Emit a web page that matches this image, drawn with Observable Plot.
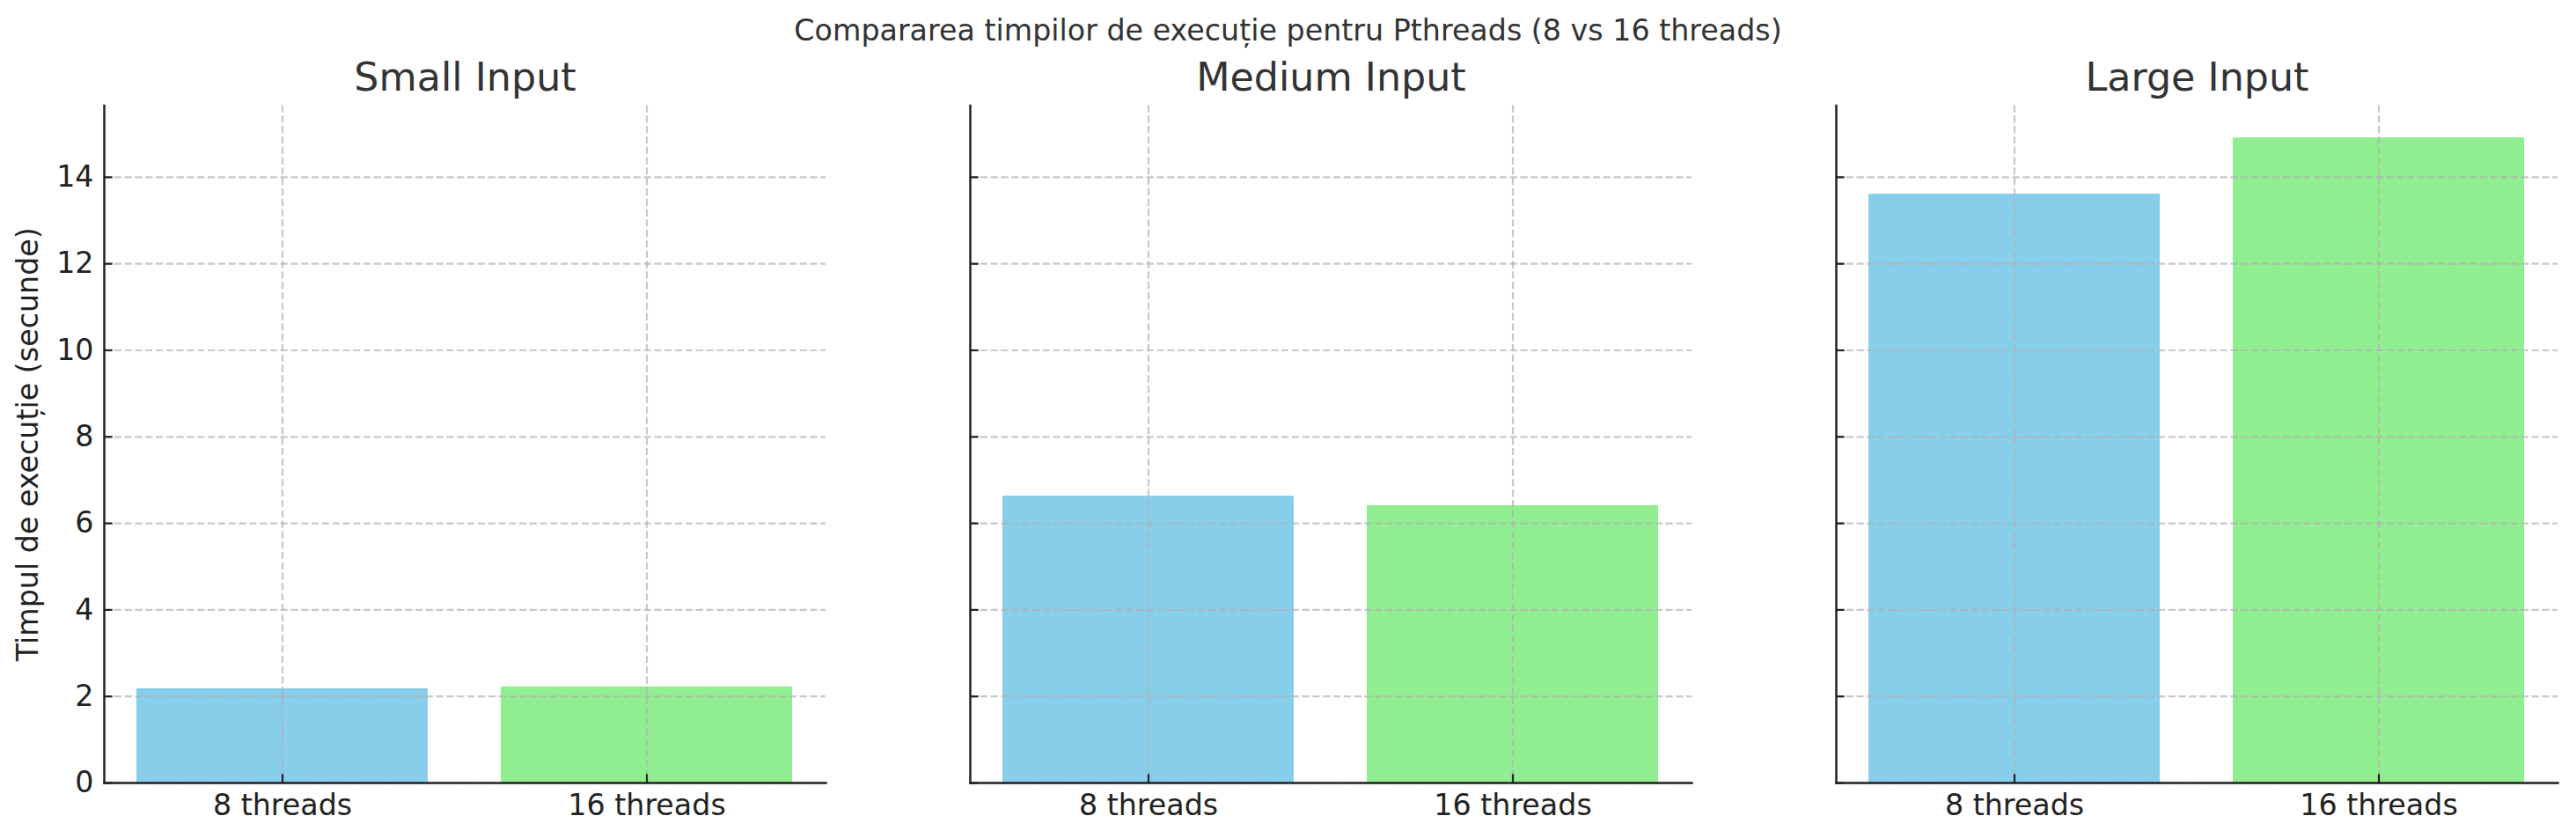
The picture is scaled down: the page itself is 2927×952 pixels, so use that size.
<!DOCTYPE html>
<html><head><meta charset="utf-8">
<script src="https://cdn.jsdelivr.net/npm/d3@7"></script>
<script src="https://cdn.jsdelivr.net/npm/@observablehq/plot@0.6"></script>
<style>
html,body{margin:0;padding:0;background:#fff;}
#title{height:60px;line-height:69px;text-align:center;font-family:"DejaVu Sans";font-size:33.3px;color:#333;white-space:nowrap;overflow:visible;}
#chart svg{display:block;}
</style></head><body>
<div id="title"></div>
<div id="chart"></div>
<script>
const suptitle = "Compararea timpilor de execuție pentru Pthreads (8 vs 16 threads)";
const yLabel = "Timpul de execuție (secunde)";
const inputSizes = ["Small Input", "Medium Input", "Large Input"];
const threadLabels = ["8 threads", "16 threads"];
const smallTimes = [2.18, 2.22];
const mediumTimes = [6.63, 6.41];
const largeTimes = [13.61, 14.91];
const yTicks = [0, 2, 4, 6, 8, 10, 12, 14];
const barColors = ["#87CEEB", "#90EE90"];

const series = [smallTimes, mediumTimes, largeTimes];
const data = [];
inputSizes.forEach((size, i) => threadLabels.forEach((t, j) => data.push({size, threads: t, value: series[i][j]})));
const yMax = d3.max(data, d => d.value) * 1.05;

document.getElementById("title").textContent = suptitle;

const font = "DejaVu Sans";
const gridStyle = {stroke: "#b0b0b0", strokeOpacity: 0.7, strokeWidth: 2.2, strokeDasharray: "8.2,3.6"};
const spine = "#222";

const chart = Plot.plot({
  width: 2927,
  height: 892,
  marginLeft: 118,
  marginRight: 21,
  marginTop: 59.5,
  marginBottom: 63,
  style: {fontFamily: font, fontSize: "33.3px", color: "#222", background: "#fff"},
  fx: {domain: inputSizes, paddingInner: 164 / 984, paddingOuter: 0, axis: null, label: null},
  x: {domain: threadLabels, paddingInner: 0.2, paddingOuter: 0.09, axis: null, label: null},
  y: {domain: [0, yMax], axis: null, label: null},
  color: {domain: threadLabels, range: barColors},
  marks: [
    Plot.barY(data, {fx: "size", x: "threads", y: "value", fill: "threads"}),
    Plot.gridY(yTicks, gridStyle),
    Plot.gridX(threadLabels, gridStyle),
    Plot.frame({anchor: "left", stroke: spine, strokeWidth: 2.5}),
    Plot.frame({anchor: "bottom", stroke: spine, strokeWidth: 2.5}),
    Plot.axisY(yTicks, {tickSize: 9.7, dx: 9.7, strokeWidth: 2.2, stroke: spine, fill: "none", label: null, facetAnchor: null}),
    Plot.axisX(threadLabels, {tickSize: 9.7, dy: -9.7, strokeWidth: 2.2, stroke: spine, fill: "none", label: null, facetAnchor: null}),
    Plot.axisY(yTicks, {tickSize: 0, tickPadding: 12, fontSize: 33.3, fill: "#222", label: null}),
    Plot.text(threadLabels, {x: d => d, text: d => d, frameAnchor: "bottom", lineAnchor: "middle", dy: 25.8, fontSize: 33.3, fill: "#222"}),
    Plot.text(inputSizes, {fx: d => d, text: d => d, frameAnchor: "top", lineAnchor: "middle", dy: -31.7, fontSize: 44.4, fill: "#333"}),
    Plot.text([yLabel], {fx: () => inputSizes[0], text: d => d, frameAnchor: "left", rotate: -90, lineAnchor: "middle", textAnchor: "middle", dx: -86, fontSize: 33.3, fill: "#222"})
  ]
});
document.getElementById("chart").appendChild(chart);
</script>
</body></html>
